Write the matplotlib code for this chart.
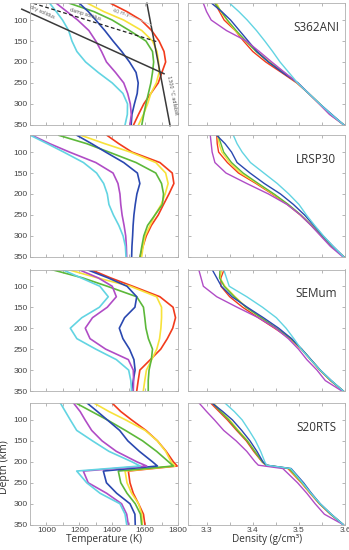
"""Upper-mantle temperature and density profiles for four tomography models"""
import numpy as np
import matplotlib
matplotlib.use('Agg')
import matplotlib.pyplot as plt

# curve order in every list: red, yellow, green, blue, magenta, cyan
depth = [60, 80, 100, 125, 150, 175, 200, 225, 250, 275, 300, 325, 350]
depth_s20 = [60, 80, 100, 125, 150, 175, 200, 210, 222, 250, 275, 300, 325, 350]
depth_s20_rho = [60, 80, 100, 125, 150, 175, 200, 208, 216, 250, 275, 300, 325, 350]

s362ani_temp = [
    [1390, 1490, 1575, 1640, 1685, 1715, 1725, 1702, 1680, 1635, 1592, 1560, 1530],
    [1250, 1350, 1470, 1580, 1645, 1672, 1682, 1685, 1668, 1635, 1615, 1590, 1560],
    [1140, 1290, 1400, 1505, 1605, 1645, 1652, 1645, 1635, 1620, 1605, 1592, 1580],
    [1200, 1255, 1300, 1355, 1405, 1458, 1505, 1545, 1558, 1552, 1535, 1520, 1515],
    [1060, 1125, 1190, 1258, 1300, 1335, 1365, 1420, 1470, 1494, 1510, 1516, 1508],
    [1020, 1060, 1098, 1135, 1155, 1185, 1238, 1315, 1400, 1465, 1493, 1492, 1478],
]
lrsp30_temp = [
    [1368, 1440, 1520, 1690, 1765, 1775, 1745, 1712, 1680, 1638, 1607, 1587, 1569],
    [1210, 1355, 1510, 1665, 1725, 1740, 1722, 1698, 1660, 1630, 1600, 1588, 1579],
    [1075, 1245, 1380, 1545, 1665, 1700, 1712, 1705, 1660, 1615, 1592, 1580, 1569],
    [1185, 1275, 1360, 1470, 1553, 1568, 1550, 1540, 1532, 1527, 1524, 1520, 1518],
    [912, 1020, 1140, 1300, 1405, 1435, 1447, 1452, 1460, 1472, 1482, 1486, 1488],
    [902, 1005, 1105, 1225, 1305, 1348, 1370, 1380, 1407, 1440, 1466, 1480, 1484],
]
semum_temp = [
    [1268, 1390, 1525, 1690, 1770, 1785, 1768, 1735, 1695, 1632, 1568, 1558, 1549],
    [1130, 1310, 1510, 1670, 1700, 1700, 1696, 1688, 1671, 1640, 1608, 1598, 1589],
    [1030, 1220, 1370, 1549, 1590, 1598, 1605, 1620, 1645, 1638, 1624, 1619, 1619],
    [1245, 1375, 1490, 1549, 1538, 1475, 1443, 1465, 1505, 1532, 1539, 1528, 1518],
    [1195, 1315, 1400, 1425, 1370, 1280, 1236, 1265, 1360, 1498, 1528, 1530, 1528],
    [1095, 1210, 1325, 1376, 1322, 1215, 1145, 1185, 1300, 1425, 1500, 1513, 1518],
]
s20rts_temp = [
    [1400, 1452, 1518, 1605, 1675, 1728, 1772, 1795, 1498, 1508, 1528, 1560, 1590, 1599],
    [1290, 1380, 1482, 1600, 1675, 1725, 1758, 1782, 1478, 1490, 1518, 1560, 1580, 1583],
    [1180, 1275, 1370, 1480, 1585, 1670, 1743, 1772, 1437, 1452, 1490, 1540, 1572, 1579],
    [1248, 1310, 1370, 1445, 1495, 1565, 1645, 1675, 1346, 1365, 1427, 1508, 1538, 1540],
    [1165, 1205, 1235, 1275, 1338, 1425, 1550, 1610, 1224, 1254, 1366, 1457, 1488, 1498],
    [1085, 1115, 1145, 1184, 1280, 1380, 1520, 1570, 1184, 1245, 1326, 1447, 1478, 1488],
]

s362ani_rho = [
    [3.318, 3.328, 3.338, 3.362, 3.380, 3.400, 3.428, 3.462, 3.495, 3.521, 3.544, 3.567, 3.597],
    [3.322, 3.331, 3.344, 3.362, 3.384, 3.409, 3.438, 3.467, 3.496, 3.521, 3.545, 3.569, 3.597],
    [3.318, 3.332, 3.345, 3.364, 3.385, 3.407, 3.434, 3.467, 3.497, 3.521, 3.545, 3.569, 3.597],
    [3.311, 3.333, 3.352, 3.371, 3.390, 3.409, 3.434, 3.464, 3.498, 3.521, 3.545, 3.571, 3.597],
    [3.293, 3.300, 3.310, 3.343, 3.386, 3.414, 3.441, 3.469, 3.497, 3.521, 3.544, 3.566, 3.597],
    [3.350, 3.370, 3.388, 3.408, 3.426, 3.443, 3.459, 3.478, 3.497, 3.521, 3.545, 3.570, 3.597],
]
lrsp30_rho = [
    [3.322, 3.323, 3.326, 3.345, 3.369, 3.407, 3.442, 3.475, 3.503, 3.527, 3.549, 3.571, 3.597],
    [3.324, 3.327, 3.333, 3.350, 3.374, 3.410, 3.444, 3.476, 3.503, 3.527, 3.549, 3.571, 3.597],
    [3.325, 3.331, 3.337, 3.354, 3.379, 3.412, 3.446, 3.477, 3.504, 3.527, 3.549, 3.571, 3.597],
    [3.322, 3.340, 3.354, 3.366, 3.394, 3.425, 3.460, 3.488, 3.512, 3.532, 3.552, 3.574, 3.597],
    [3.308, 3.310, 3.312, 3.318, 3.342, 3.387, 3.434, 3.474, 3.503, 3.526, 3.547, 3.568, 3.595],
    [3.358, 3.366, 3.377, 3.395, 3.424, 3.453, 3.478, 3.500, 3.516, 3.534, 3.553, 3.574, 3.597],
]
semum_rho = [
    [3.338, 3.331, 3.331, 3.350, 3.378, 3.412, 3.447, 3.481, 3.505, 3.525, 3.545, 3.568, 3.596],
    [3.333, 3.329, 3.340, 3.362, 3.386, 3.418, 3.450, 3.482, 3.505, 3.525, 3.545, 3.569, 3.596],
    [3.329, 3.328, 3.338, 3.360, 3.385, 3.418, 3.451, 3.483, 3.506, 3.526, 3.546, 3.569, 3.596],
    [3.312, 3.322, 3.332, 3.355, 3.388, 3.423, 3.456, 3.484, 3.506, 3.526, 3.546, 3.570, 3.596],
    [3.283, 3.288, 3.293, 3.322, 3.366, 3.412, 3.449, 3.477, 3.499, 3.517, 3.539, 3.557, 3.593],
    [3.337, 3.343, 3.349, 3.387, 3.421, 3.451, 3.472, 3.489, 3.505, 3.525, 3.546, 3.570, 3.596],
]
s20rts_rho = [
    [3.309, 3.327, 3.345, 3.365, 3.386, 3.402, 3.420, 3.428, 3.476, 3.505, 3.524, 3.544, 3.568, 3.596],
    [3.315, 3.332, 3.350, 3.369, 3.389, 3.405, 3.421, 3.429, 3.478, 3.506, 3.525, 3.545, 3.569, 3.596],
    [3.313, 3.330, 3.348, 3.367, 3.388, 3.404, 3.421, 3.429, 3.479, 3.507, 3.526, 3.545, 3.569, 3.596],
    [3.312, 3.335, 3.356, 3.376, 3.394, 3.409, 3.422, 3.430, 3.483, 3.510, 3.527, 3.546, 3.570, 3.596],
    [3.284, 3.300, 3.317, 3.337, 3.364, 3.387, 3.405, 3.412, 3.465, 3.497, 3.517, 3.535, 3.555, 3.596],
    [3.340, 3.360, 3.377, 3.392, 3.406, 3.417, 3.426, 3.430, 3.482, 3.508, 3.526, 3.546, 3.570, 3.596],
]

model_names = ['S362ANI', 'LRSP30', 'SEMum', 'S20RTS']

# reference lines in the top panel: (temperature, depth) end points
dry_solidus = ([850, 1715], [74, 228])
damp_solidus = ([920, 1675], [60, 152])
adiabat_1300 = ([1611, 1752], [60, 352])
plate_40my = ([1510, 1640], [90, 112])

colors = ['#f23b1c', '#f7e23a', '#5cb83a', '#2a48b0', '#b04cc6', '#62d4e2']

temps = [s362ani_temp, lrsp30_temp, semum_temp, s20rts_temp]
rhos = [s362ani_rho, lrsp30_rho, semum_rho, s20rts_rho]
tdepths = [depth, depth, depth, depth_s20]
rdepths = [depth, depth, depth, depth_s20_rho]

tick_font = {'family': 'Liberation Sans', 'size': 6, 'color': '#444444'}

fig = plt.figure(figsize=(3.49, 5.5), dpi=100)
bottoms = [0.773, 0.533, 0.289, 0.046]
for i in range(4):
    axT = fig.add_axes([0.086, bottoms[i], 0.424, 0.221])
    axR = fig.add_axes([0.539, bottoms[i], 0.450, 0.221])
    for c, t in zip(colors, temps[i]):
        axT.plot(t, tdepths[i], color=c, lw=1.2)
    for c, r in zip(colors, rhos[i]):
        axR.plot(r, rdepths[i], color=c, lw=1.0)

    axT.set_xlim(900, 1800)
    axR.set_xlim(3.26, 3.6)
    for ax in (axT, axR):
        ax.set_ylim(350, 60)
        ax.set_yticks([100, 150, 200, 250, 300, 350])
        for s in ax.spines.values():
            s.set_color('#b0b0b0')
            s.set_linewidth(0.6)
        ax.tick_params(direction='in', length=2, width=0.5, color='#999999',
                       top=True, right=True, pad=1.5)
    axT.set_xticks(np.arange(900, 1801, 100))
    axR.set_xticks(np.arange(3.30, 3.601, 0.05))
    axT.set_yticklabels(['100', '150', '200', '250', '300', '350'],
                        fontdict=tick_font)
    axR.set_yticklabels([])
    if i == 3:
        axT.set_xticklabels(['', '1000', '', '1200', '', '1400', '', '1600',
                             '', '1800'], fontdict=tick_font)
        axR.set_xticklabels(['3.3', '', '3.4', '', '3.5', '', '3.6'],
                            fontdict=tick_font)
        axT.set_xlabel('Temperature (K)', family='Open Sans', fontsize=7.2,
                       color='#333333', labelpad=0)
        axR.set_xlabel('Density (g/cm³)', family='Open Sans', fontsize=7.2,
                       color='#333333', labelpad=0)
    else:
        axT.set_xticklabels([])
        axR.set_xticklabels([])
    axR.text(0.815, 0.80, model_names[i], transform=axR.transAxes,
             ha='center', va='center', family='Open Sans', fontsize=8.5,
             color='#333333')

    if i == 0:
        axT.plot(*dry_solidus, color='#3a3a3a', lw=1.1, clip_on=False)
        axT.plot(*damp_solidus, color='#222222', lw=0.9, ls=(0, (3, 2)))
        axT.plot(*adiabat_1300, color='#3a3a3a', lw=1.1, clip_on=False)
        axT.plot(*plate_40my, color='#c8c8c8', lw=0.5)
        axT.text(975, 80, 'dry solidus', rotation=-24, fontsize=3.5,
                 color='#555555', ha='center', va='center')
        axT.text(1235, 87, 'damp solidus', rotation=-17, fontsize=3.5,
                 color='#555555', ha='center', va='center')
        axT.text(1455, 84, '40 m.y.', rotation=-15, fontsize=3.5,
                 color='#777777', ha='center', va='center')
        axT.text(1763, 280, '1300 °C adiabat', rotation=-79, fontsize=3.5,
                 color='#555555', ha='center', va='center')

fig.text(0.012, 0.15, 'Depth (km)', rotation=90, family='Open Sans',
         fontsize=7.5, color='#333333', ha='center', va='center')

plt.savefig('out.png', dpi=100)
